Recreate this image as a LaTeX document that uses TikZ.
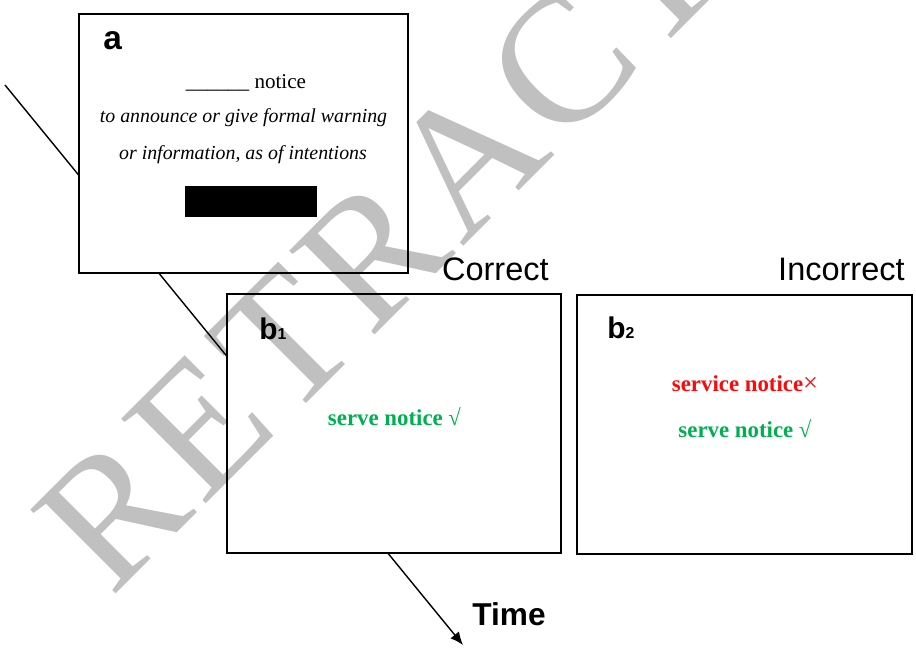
\documentclass[tikz,border=0pt]{standalone}
\usepackage{fontspec}
\setmainfont{Liberation Serif}
\setsansfont{Liberation Sans}
\usetikzlibrary{calc,arrows.meta,positioning}
\definecolor{okgreen}{RGB}{0,176,80}
\definecolor{badred}{RGB}{250,10,10}
\definecolor{wmgray}{RGB}{192,192,192}

\begin{document}
\begin{tikzpicture}[x=0.02cm,y=-0.02cm,
    panel/.style={draw,line width=1.1pt,fill=white,minimum width=#1,minimum height=5.18cm,inner sep=0pt},
    tag/.style={font=\sffamily\bfseries\fontsize{17}{17}\selectfont,anchor=base west,inner sep=0pt},
    head/.style={font=\sffamily\fontsize{18.5}{18.5}\selectfont,anchor=base east,inner sep=0pt},
    cue/.style={font=\fontsize{11.3}{13}\selectfont\itshape,inner sep=0pt},
    answer/.style={font=\bfseries\fontsize{13}{13}\selectfont,inner sep=0pt}]

\useasboundingbox (0,0) rectangle (916,649);

% time line, behind the panels
\coordinate (tStart) at (5,85);
\coordinate (tEnd) at (463,645);
\draw[line width=0.8pt,-{Latex[length=2.6mm,width=2.2mm]}] (tStart) -- (tEnd);

% panel a
\node[panel=6.58cm] (pa) at (243.5,143.5) {};
\node[tag,font=\sffamily\bfseries\fontsize{19}{19}\selectfont] (taga) at (103,50) {a};
\node[inner sep=0pt,font=\fontsize{12}{12}\selectfont] (cloze) at (246,83) {\_\_\_\_\_\_ notice};
\node[cue] (cueA) at (243.5,118) {to announce or give formal warning};
\node[cue] (cueB) at (243,155) {or information, as of intentions};
\node[fill=black,minimum width=2.64cm,minimum height=0.62cm,inner sep=0pt] (blank) at (251,201.5) {};

% panels b1 and b2
\node[panel=6.68cm] (pb1) at (394,423.5) {};
\node[panel=6.70cm] (pb2) at (744.5,424.5) {};
\node[tag] (tagb1) at (259,339) {b{\fontsize{9}{9}\selectfont 1}};
\node[tag] (tagb2) at (607,338) {b{\fontsize{9}{9}\selectfont 2}};
\node[head] (hCorrect) at (549,280) {Correct};
\node[head] (hIncorrect) at (905,280) {Incorrect};

\node[answer,text=okgreen] (ansB1) at (394.5,417) {serve notice {\mdseries √}};
\node[answer,text=badred] (wrongB2) at (745,384) {service notice{\mdseries\fontsize{15}{15}\selectfont ×}};
\node[answer,text=okgreen] (ansB2) at (745,429) {serve notice {\mdseries √}};

\node[font=\sffamily\bfseries\fontsize{18}{18}\selectfont,anchor=base west,inner sep=0pt] (time) at (472,625) {Time};

% watermark
\begin{scope}[blend mode=multiply]
\node[font=\fontsize{104}{104}\selectfont\addfontfeature{LetterSpace=4},text=wmgray,rotate=45,anchor=base west,inner sep=0pt] (wm) at (111,599) {RETRACTED};
\end{scope}
\end{tikzpicture}
\end{document}
